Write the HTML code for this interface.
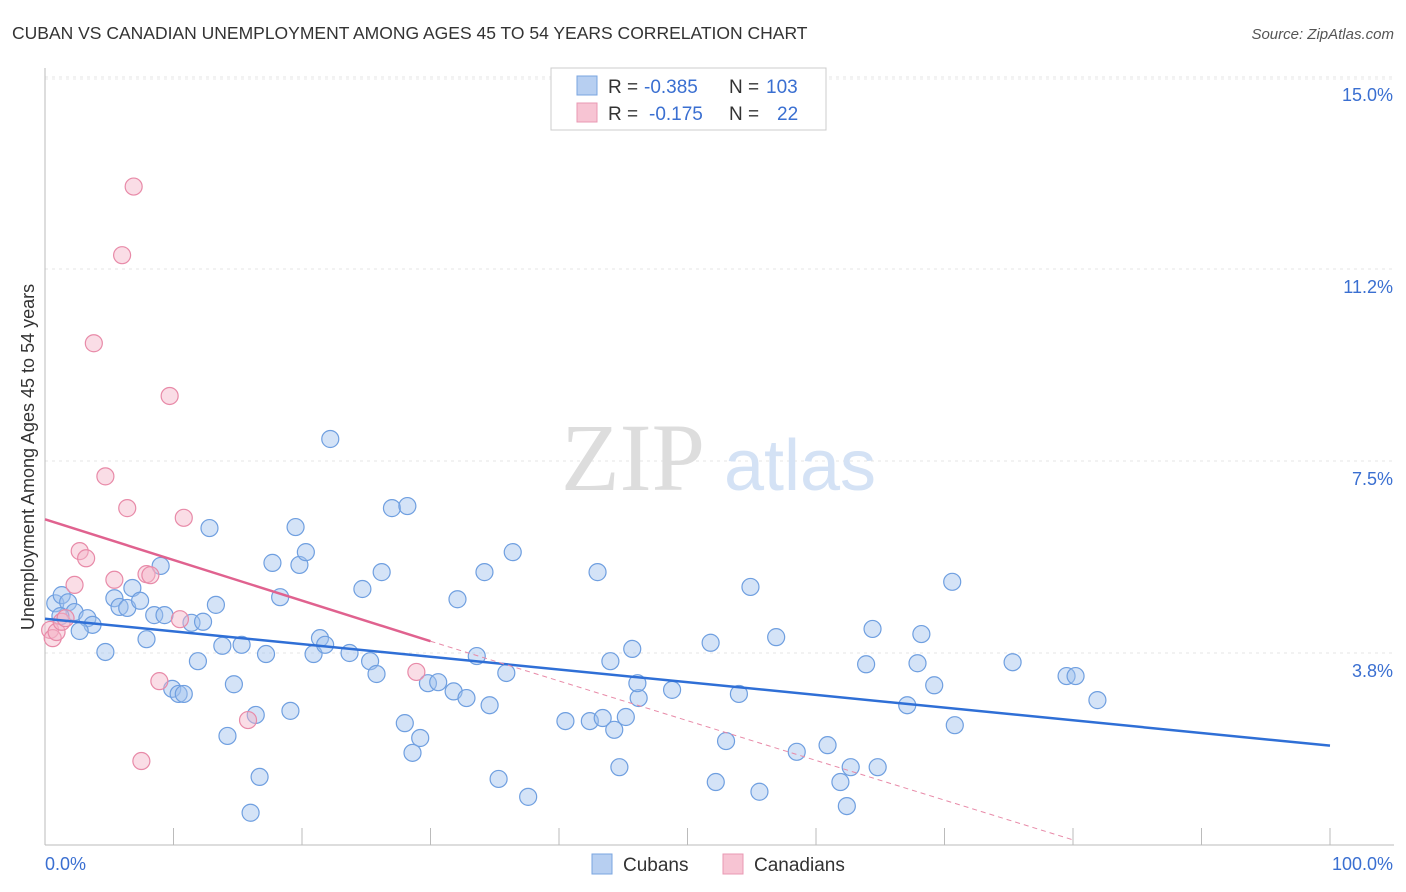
<!DOCTYPE html>
<html><head><meta charset="utf-8"><style>
body{margin:0;background:#fff;font-family:"Liberation Sans",sans-serif;}
</style></head><body>
<svg id="chart" width="1406" height="892" xmlns="http://www.w3.org/2000/svg" style="display:block">
<text x="12" y="39" font-size="17.5" fill="#333">CUBAN VS CANADIAN UNEMPLOYMENT AMONG AGES 45 TO 54 YEARS CORRELATION CHART</text>
<text x="1394" y="39" font-size="15" fill="#555" text-anchor="end" font-style="italic">Source: ZipAtlas.com</text>
<g id="grid"></g>
<g>
<text x="633" y="490" font-size="96" fill="#ddd" font-family="Liberation Serif" text-anchor="middle">ZIP</text>
<text x="800" y="490" font-size="72" fill="#d4e2f5" text-anchor="middle">atlas</text>
</g>
<g id="axes"></g>
<g id="pts"></g>
<g id="lines"></g>
<g>
<rect x="551" y="68" width="275" height="62" fill="#fff" stroke="#ccc"/>
<rect x="577" y="76" width="20" height="19" fill="#b7cff1" stroke="#7aa5e0"/>
<rect x="577" y="103" width="20" height="19" fill="#f7c4d3" stroke="#e998b3"/>
<text x="608" y="93" font-size="19" fill="#333">R =</text>
<text x="644" y="93" font-size="19" fill="#3a6fd1">-0.385</text>
<text x="729" y="93" font-size="19" fill="#333">N =</text>
<text x="766" y="93" font-size="19" fill="#3a6fd1">103</text>
<text x="608" y="120" font-size="19" fill="#333">R =</text>
<text x="649" y="120" font-size="19" fill="#3a6fd1">-0.175</text>
<text x="729" y="120" font-size="19" fill="#333">N =</text>
<text x="777" y="120" font-size="19" fill="#3a6fd1">22</text>
</g>
<g>
<rect x="592" y="854" width="20" height="20" fill="#b7cff1" stroke="#7aa5e0"/>
<text x="623" y="871" font-size="19" fill="#333">Cubans</text>
<rect x="723" y="854" width="20" height="20" fill="#f7c4d3" stroke="#e998b3"/>
<text x="754" y="871" font-size="19" fill="#333">Canadians</text>
</g>
<text transform="translate(34,457) rotate(-90)" font-size="18" fill="#333" text-anchor="middle">Unemployment Among Ages 45 to 54 years</text>
</svg>
<script>
const yTicks=[3.75,7.5,11.25,15];
const yTickLabels=["3.8%","7.5%","11.2%","15.0%"];
const xTicks=[0,10,20,30,40,50,60,70,80,90,100];
const cubansX=[0.8,1.3,1.8,2.3,1.2,3.3,3.7,2.7,4.7,5.4,5.8,6.4,6.8,7.4,7.9,8.5,9,9.3,9.9,10.4,10.8,11.4,11.9,12.3,12.8,13.3,13.8,14.2,14.7,15.3,16,16.4,16.7,17.2,17.7,18.3,19.1,19.5,19.8,20.3,20.9,21.4,21.8,22.2,23.7,24.7,25.3,25.8,26.2,27,28,28.2,28.6,29.2,29.8,30.6,31.8,32.1,32.8,33.6,34.2,34.6,35.3,35.9,36.4,37.6,40.5,42.4,43,43.4,44,44.3,44.7,45.2,45.7,46.2,46.1,48.8,51.8,52.2,53,54,54.9,55.6,56.9,58.5,60.9,61.9,62.4,62.7,63.9,64.4,64.8,67.1,67.9,68.2,69.2,70.6,70.8,75.3,79.5,80.2,81.9];
const cubansY=[4.72,4.88,4.74,4.55,4.47,4.43,4.3,4.18,3.77,4.82,4.65,4.63,5.02,4.77,4.02,4.49,5.45,4.49,3.05,2.95,2.95,4.34,3.59,4.36,6.19,4.69,3.89,2.13,3.14,3.91,0.63,2.54,1.33,3.73,5.51,4.84,2.62,6.21,5.47,5.72,3.73,4.04,3.91,7.93,3.75,5,3.59,3.34,5.33,6.58,2.38,6.62,1.80,2.09,3.16,3.18,3,4.8,2.87,3.69,5.33,2.73,1.29,3.36,5.72,0.94,2.42,2.42,5.33,2.48,3.59,2.25,1.52,2.5,3.83,2.87,3.16,3.03,3.95,1.23,2.03,2.95,5.04,1.04,4.06,1.82,1.95,1.23,0.76,1.52,3.53,4.22,1.52,2.73,3.55,4.12,3.12,5.14,2.34,3.57,3.3,3.3,2.83];
const canadiansX=[0.4,0.6,0.9,1.3,1.6,2.3,2.7,3.2,3.8,4.7,5.4,6,6.4,6.9,7.5,7.9,8.2,8.9,9.7,10.5,10.8,15.8,28.9];
const canadiansY=[4.2,4.04,4.16,4.36,4.43,5.08,5.74,5.6,9.8,7.2,5.18,11.52,6.58,12.86,1.64,5.29,5.27,3.2,8.77,4.41,6.39,2.44,3.38];
const cubanTrend=[[0,4.42],[100,1.94]];
const canTrend=[[0,6.36],[30,3.98]];
const canDash=[[30,3.98],[80,0.1]];
const X=v=>45+v*12.85, Y=v=>845-v*51.2;
const NS="http://www.w3.org/2000/svg";
function mk(t,a,p){const e=document.createElementNS(NS,t);for(const k in a)e.setAttribute(k,a[k]);p.appendChild(e);return e;}
const grid=document.getElementById('grid'),axes=document.getElementById('axes'),pts=document.getElementById('pts'),lines=document.getElementById('lines');
yTicks.forEach((v,i)=>{
 const l=mk('line',{x1:45,x2:1394,y1:Y(v),y2:Y(v),stroke:'#e4e4e4','stroke-dasharray':'3,4'},grid);
 
 
 const t=mk('text',{x:1393,y:Y(v)+24,'font-size':18,fill:'#3a6fd1','text-anchor':'end'},axes);
 t.textContent=yTickLabels[i];
 
 
});
const tl=mk('line',{x1:45,x2:1394,y1:79,y2:79,stroke:'#e8e8e8','stroke-dasharray':'3,4'},grid);


const ya=mk('line',{x1:45,x2:45,y1:68,y2:845,stroke:'#bbb'},axes);


const xa=mk('line',{x1:45,x2:1394,y1:845,y2:845,stroke:'#bbb'},axes);


xTicks.forEach(v=>{const t=mk('line',{x1:X(v),x2:X(v),y1:828,y2:845,stroke:'#bbb'},axes);
 
 });
[["0.0%",45,'start'],["100.0%",1393,'end']].forEach(([s,x,a])=>{const t=mk('text',{x:x,y:870,'font-size':18,fill:'#3a6fd1','text-anchor':a},axes);t.textContent=s;
 
 });
cubansX.forEach((v,i)=>{const c=mk('circle',{cx:X(v),cy:Y(cubansY[i]),r:8.5,fill:'rgba(160,192,238,0.45)',stroke:'#6f9fe0','stroke-width':1.2},pts);
 
 });
canadiansX.forEach((v,i)=>{const c=mk('circle',{cx:X(v),cy:Y(canadiansY[i]),r:8.5,fill:'rgba(244,180,200,0.45)',stroke:'#e88aa8','stroke-width':1.2},pts);
 
 });
const l1=mk('line',{x1:X(cubanTrend[0][0]),y1:Y(cubanTrend[0][1]),x2:X(cubanTrend[1][0]),y2:Y(cubanTrend[1][1]),stroke:'#2f6fd6','stroke-width':2.5},lines);


const l2=mk('line',{x1:X(canTrend[0][0]),y1:Y(canTrend[0][1]),x2:X(canTrend[1][0]),y2:Y(canTrend[1][1]),stroke:'#e0628f','stroke-width':2.5},lines);


const l3=mk('line',{x1:X(canDash[0][0]),y1:Y(canDash[0][1]),x2:X(canDash[1][0]),y2:Y(canDash[1][1]),stroke:'#e88aa8','stroke-width':1,'stroke-dasharray':'5,4'},lines);


</script>
</body></html>
